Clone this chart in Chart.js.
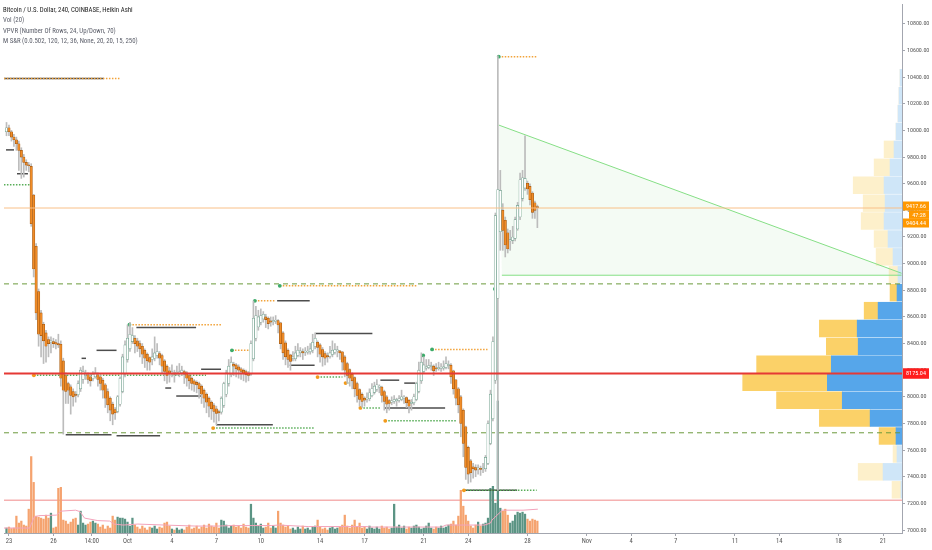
<!DOCTYPE html>
<html><head><meta charset="utf-8">
<script src="https://cdn.jsdelivr.net/npm/chart.js@4.4.0/dist/chart.umd.min.js"></script>
<style>
html,body{margin:0;padding:0;background:#fff;}
#wrap{position:relative;width:932px;height:550px;}
#legend{position:absolute;left:3px;top:5px;font-family:"Roboto Condensed","Liberation Sans",Arial,sans-serif;font-size:6.8px;line-height:10.4px;color:#5d606b;pointer-events:none;white-space:nowrap;}
#legend .t{color:#222;}
</style></head>
<body><div id="wrap"><canvas id="c" width="932" height="550"></canvas>
<div id="legend"><div class="t">Bitcoin / U.S. Dollar, 240, COINBASE, Heikin Ashi</div><div>Vol (20)</div><div>VPVR (Number Of Rows, 24, Up/Down, 70)</div><div>M S&amp;R (0.0.502, 120, 12, 36, None, 20, 20, 15, 250)</div></div>
</div>
<script>
// ---------- data ----------
const xTickDays = [0,3,5.583,8,11,14,17,21,24,28,31,35,39,42,45,49,52,56,59];
const xTickLabels = ['23','26','14:00','Oct','4','7','10','14','17','21','24','28','Nov','4','7','11','14','18','21'];
const priceTicks = [7000,7200,7400,7600,7800,8000,8200,8400,8600,8800,9000,9200,9400,9600,9800,10000,10200,10400,10600,10800];
const barStartDay = -1/6;       // first 4h bar (Sep 22, 20:00)
const barStepDay = 4/24;        // 240-minute bars
// Heikin Ashi candles [open, high, low, close]
const candles = [
[9990,10060,9960,10020],[10020,10040,9960,9990],[9990,10000,9920,9950],[9950,9970,9880,9930],[9930,9950,9850,9900],[9900,9920,9700,9850],
[9850,9870,9640,9800],[9800,9820,9650,9760],[9760,9780,9700,9740],[9740,9760,9690,9735],[9730,9750,9280,9300],[9515,9520,8900,8960],
[9130,9150,8580,8630],[8790,8810,8380,8470],[8630,8650,8300,8460],[8545,8560,8250,8420],[8480,8500,8260,8380],[8430,8450,8300,8400],
[8410,8450,8330,8420],[8415,8440,8370,8400],[8408,8430,8360,8395],[8400,8470,8370,8390],[8395,8420,8080,8140],[8270,8290,7720,8050],
[8160,8180,7950,8040],[8100,8110,7950,8050],[8075,8090,7870,8010],[8040,8060,7930,8000],[8020,8040,7960,8010],[8015,8120,8000,8100],
[8060,8220,8040,8200],[8130,8230,8100,8190],[8160,8200,8130,8170],[8165,8180,8100,8130],[8150,8170,8080,8120],[8135,8190,8120,8170],
[8150,8220,8140,8180],[8165,8180,8080,8130],[8150,8160,8050,8100],[8125,8140,7990,8050],[8090,8100,7920,7990],[8040,8060,7880,7940],
[7990,8000,7820,7900],[7945,7960,7790,7870],[7905,7920,7830,7880],[7890,8010,7880,8000],[7945,8150,7930,8140],[8040,8320,8030,8300],
[8170,8420,8150,8390],[8280,8540,8260,8440],[8360,8560,8340,8470],[8415,8520,8400,8460],[8440,8460,8330,8400],[8420,8440,8340,8380],
[8400,8420,8300,8360],[8380,8400,8250,8320],[8350,8360,8220,8290],[8320,8330,8200,8270],[8295,8300,8200,8260],[8280,8360,8240,8300],
[8290,8450,8270,8330],[8310,8400,8290,8340],[8325,8340,8240,8290],[8310,8320,8180,8230],[8270,8280,8120,8190],[8230,8240,8100,8160],
[8195,8220,8110,8175],[8180,8240,8150,8180],[8178,8200,8110,8170],[8175,8230,8160,8185],[8180,8250,8150,8180],[8180,8230,8160,8200],
[8190,8200,8100,8170],[8180,8190,8080,8140],[8160,8170,8060,8120],[8140,8150,8050,8100],[8120,8130,8040,8095],[8108,8120,8030,8090],
[8100,8110,7990,8060],[8080,8090,7950,8020],[8050,8060,7920,7990],[8020,8030,7880,7960],[7990,8000,7850,7930],[7960,7970,7830,7910],
[7935,7950,7810,7890],[7910,7930,7790,7875],[7890,7900,7820,7880],[7885,8000,7870,7990],[7935,8110,7920,8100],[8020,8200,8000,8180],
[8100,8280,8080,8230],[8165,8300,8150,8260],[8245,8260,8160,8230],[8240,8250,8150,8210],[8225,8240,8140,8200],[8210,8220,8130,8190],
[8200,8210,8120,8175],[8190,8200,8110,8165],[8178,8190,8120,8160],[8170,8420,8160,8400],[8285,8720,8270,8590],[8440,8680,8420,8610],
[8525,8650,8500,8600],[8560,8660,8540,8610],[8585,8640,8560,8620],[8600,8620,8520,8580],[8590,8600,8510,8550],[8570,8600,8530,8560],
[8565,8600,8540,8570],[8568,8610,8550,8575],[8572,8580,8480,8540],[8556,8560,8360,8400],[8480,8490,8280,8330],[8405,8420,8240,8300],
[8350,8360,8220,8280],[8315,8320,8200,8265],[8290,8340,8270,8300],[8285,8380,8270,8330],[8310,8400,8300,8350],[8330,8370,8300,8345],
[8340,8360,8280,8330],[8335,8370,8310,8335],[8335,8380,8320,8340],[8338,8400,8320,8360],[8350,8470,8330,8410],[8380,8480,8360,8440],
[8410,8420,8300,8370],[8390,8400,8260,8320],[8355,8370,8230,8300],[8325,8340,8240,8290],[8310,8330,8260,8300],[8305,8380,8290,8330],
[8318,8420,8300,8350],[8335,8400,8320,8355],[8345,8380,8300,8345],[8345,8350,8280,8330],[8338,8340,8200,8260],[8300,8310,8150,8200],
[8250,8260,8100,8160],[8205,8210,8080,8140],[8170,8180,8060,8120],[8145,8150,8000,8060],[8100,8110,7960,8010],[8055,8060,7930,7980],
[8018,8030,7920,7965],[7990,8000,7930,7975],[7982,8030,7960,7990],[7986,8060,7970,8030],[8008,8100,8000,8060],[8034,8110,8020,8080],
[8057,8130,8040,8090],[8073,8090,8030,8075],[8074,8080,7960,8010],[8040,8050,7900,7965],[8000,8010,7880,7945],[7972,7980,7900,7950],
[7960,8000,7940,7970],[7965,8010,7950,7980],[7972,7990,7930,7975],[7974,8010,7960,7985],[7980,8050,7970,8000],[7990,8010,7950,7990],
[7995,8000,7920,7955],[7975,7980,7880,7930],[7950,7980,7900,7960],[7955,8020,7940,8000],[7980,8110,7970,8100],[8040,8260,8030,8200],
[8120,8330,8100,8260],[8190,8300,8180,8240],[8215,8280,8200,8225],[8220,8280,8210,8235],[8228,8260,8200,8230],[8230,8240,8160,8195],
[8212,8250,8190,8210],[8211,8260,8200,8220],[8215,8250,8190,8215],[8215,8270,8200,8225],[8220,8300,8210,8250],[8235,8270,8210,8240],
[8238,8250,8100,8150],[8195,8200,8020,8060],[8128,8130,7940,7990],[8060,8070,7880,7940],[8000,8010,7700,7800],[7900,7910,7550,7650],
[7775,7780,7380,7470],[7620,7630,7350,7420],[7520,7530,7360,7430],[7475,7500,7390,7460],[7468,7490,7400,7450],[7459,7490,7420,7460],
[7460,7480,7410,7455],[7458,7500,7430,7465],[7460,7560,7440,7545],[7500,7820,7490,7800],[7650,8050,7640,8020],[7835,8450,7820,8415],
[8125,9380,8100,9360],[8740,10560,7300,9556],[9240,9700,9100,9550],[9400,9450,9100,9250],[9325,9350,9050,9140],[9232,9260,9080,9110],
[9170,9250,9100,9180],[9175,9280,9150,9200],[9190,9350,9170,9330],[9260,9460,9250,9437],[9350,9680,9330,9630],[9490,9700,9470,9645],
[9567,9960,9550,9640],[9603,9620,9520,9560],[9580,9600,9440,9480],[9530,9540,9340,9385],[9457,9470,9340,9400],[9428,9440,9270,9420]
];
// volume per bar (thousand BTC)
const volume = [
1.0,1.2,0.9,1.0,3.4,2.0, 2.4,1.6,1.4,4.8,15.4,10.2, 3.4,3.2,3.0,2.8,3.6,3.0, 4.0,1.0,1.2,9.0,9.2,2.6,
2.4,1.8,2.2,2.8,3.0,1.6, 4.4,2.0,1.6,1.8,2.2,2.4, 2.0,1.8,1.2,1.6,0.8,1.4, 1.0,3.4,2.6,3.2,3.0,3.0,
2.8,2.2,1.4,3.0,1.6,1.2, 0.8,1.4,1.0,0.6,1.2,1.0, 1.4,0.8,1.2,1.0,2.0,2.2, 1.4,0.8,0.6,1.0,0.6,0.8,
0.6,1.2,1.6,0.8,1.0,1.4, 0.8,1.2,1.6,1.0,1.8,1.4, 1.2,2.0,1.0,2.6,2.4,1.6, 1.0,1.4,1.6,1.2,1.4,1.0,
1.8,1.2,1.0,5.8,3.0,2.0, 1.4,1.8,1.0,1.2,2.0,1.0, 1.4,1.0,4.4,2.0,1.6,1.2, 1.4,0.8,1.0,0.6,1.2,0.8,
1.4,0.8,1.0,0.6,1.2,1.4, 2.6,1.2,0.8,1.0,0.6,1.0, 1.2,0.8,1.0,1.2,1.6,3.6, 1.4,1.0,1.6,2.6,1.2,2.0,
1.0,1.2,0.8,1.4,1.0,0.8, 1.2,0.8,1.4,1.0,1.2,0.8, 1.0,5.8,1.2,1.6,1.0,1.4, 0.8,1.2,1.0,1.4,1.6,1.2,
0.8,1.0,1.4,2.0,1.0,0.8, 1.2,1.0,1.4,1.0,1.2,1.6, 1.8,2.4,1.6,3.4,8.6,5.4, 3.6,2.4,1.4,1.0,1.6,2.2,
1.4,1.8,2.0,3.0,9.0,9.4, 6.0,26.6,5.0,4.4,4.8,3.6, 2.0,2.4,3.6,4.2,4.0,4.2, 3.8,2.8,2.4,2.8,2.6,2.4
];
// Vol(20) moving average [day, thousand BTC]
const volMA = [[-0.34,1.0],[1.4,1.0],[1.7,3.2],[2.0,3.5],[3.2,3.6],[3.5,4.4],[4.5,4.6],[4.8,4.3],[5.1,3.0],[6.0,2.5],[6.8,2.4],[7.1,1.8],[7.7,1.6],[8.7,1.8],[10.5,1.6],[12.6,1.4],[14.1,1.4],[15.1,1.5],[17.7,1.5],[18.2,1.6],[20.2,1.3],[24.1,1.3],[24.4,1.2],[29.2,1.2],[29.5,1.6],[32.1,1.6],[32.5,2.0],[32.6,2.6],[33.3,4.6],[34.7,4.6],[35.7,4.8]];
// VPVR: 24 rows (mid price), up / down volume
const vpRows = [7365,7500,7634,7769,7903,8038,8172,8307,8441,8576,8710,8845,8979,9114,9248,9383,9517,9652,9786,9921,10055,10190,10324,10459];
const vpUp   = [0.5,9.5,2.5,3,16,30,37.5,35.5,22,22.5,12,2.5,2,4.5,7,9,8.5,9,6,4,3,2,1.5,1];
const vpDown = [4.5,12.5,2,8.5,25.5,33,42.5,37.5,16,19,7,3.5,4.5,8.5,7,11.5,11,15.5,8,5,0,0,0,0];
const valueAreaRows = [3, 11];
// price levels
const lastPrice = 9417.66, lastClose2 = 9404.44, barCountdown = '47:28', pocPrice = 8175.04;
const dashedLevels = [8848, 7730];
const redLevel = 7224;
const triUpper = [[33.07,10040],[60.25,8928]];
const triLower = [[33.27,8913],[60.25,8913]];
// M S&R: [price, fromDay, toDay, startDot]
const resLines = [[10390,-0.34,7.5,0],[8542,8.13,14.31,1],[8349,15.05,16.33,1],[8721,16.6,18.0,1],[8833,18.28,27.55,1],[8356,28.56,32.3,1],[10554,33.06,35.62,1]];
const supLines = [[9593,-0.34,1.48,0],[8162,1.68,13.3,1],[7765,13.78,20.63,1],[8148,20.83,22.51,1],[8103,22.72,23.1,1],[7917,23.72,25.07,1],[7820,25.4,30.24,1],[7298,30.71,35.62,1]];
const pivotLines = [[10390,-0.34,6.4],[9854,-0.2,0.34],[9675,0.54,1.28],[7715,3.83,6.92],[8289,4.9,5.2],[8349,5.91,7.26],[7708,7.26,10.2],[8520,8.6,12.63],[8066,10.55,10.95],[8006,11.29,12.97],[8207,12.97,14.31],[7790,13.98,17.81],[8721,18.1,20.3],[8237,18.95,20.63],[8475,20.7,24.53],[8125,25.07,26.34],[8103,26.68,27.42],[7917,25.34,29.44],[7298,30.71,34.3]];
const signalDots = [[32.8,8810],[27.96,8311]];

// ---------- chart ----------
const F = '"Roboto Condensed","Liberation Sans",Arial,sans-serif';
Chart.defaults.font.family = F;
const xMin = -0.336, xMax = 60.28, yMin = 6977.6, yMax = 10949.3;
const times = candles.map((c, i) => barStartDay + i * barStepDay);
const isUp = i => candles[i][3] >= candles[i][0];

const C = {
  upFill:'#ffffff', upBorder:'#6f9f8c', dnFill:'#f08c28', dnBorder:'#a0560f', wick:'#bcbcbc',
  volUp:'#5b9484', volDn:'#f5a36f', ma:'#f3a3bb',
  vpUp:'#56a6ea', vpDn:'#fbd168', vpUpF:'#cfe6f8', vpDnF:'#fdf0cb',
  res:'#f2a33a', sup:'#58ad58', piv:'#4d4d4d', dotRes:'#3cab6a', dotSup:'#f29a1a'
};

function hline(price, a, b, extra) {
  return Object.assign({type:'line', data:[{x:a,y:price},{x:b,y:price}], pointRadius:0, borderWidth:1, fill:false, tension:0}, extra);
}

const datasets = [];
// candles
datasets.push({type:'bar', label:'body', order:10, grouped:false, barThickness:2.4, minBarLength:1,
  data: candles.map((c,i)=>({x:times[i], y:[c[0], c[3]]})),
  backgroundColor: ctx => isUp(ctx.dataIndex) ? C.upFill : C.dnFill,
  borderColor: ctx => isUp(ctx.dataIndex) ? C.upBorder : C.dnBorder,
  borderWidth:0.6, borderSkipped:false});
datasets.push({type:'bar', label:'wick', order:20, grouped:false, barThickness:1,
  data: candles.map((c,i)=>({x:times[i], y:[c[2], c[1]]})), backgroundColor:C.wick, borderWidth:0});
// volume
datasets.push({type:'bar', label:'vol', order:70, grouped:false, barThickness:1.6, yAxisID:'yVol',
  data: volume.map((v,i)=>({x:times[i], y:v})),
  backgroundColor: ctx => isUp(ctx.dataIndex) ? C.volUp : C.volDn, borderWidth:0});
datasets.push({type:'line', label:'volMA', order:65, yAxisID:'yVol', data: volMA.map(p=>({x:p[0], y:p[1]})),
  borderColor:C.ma, borderWidth:1, pointRadius:0, fill:false, tension:0});
// VPVR
const inVA = k => k >= valueAreaRows[0] && k <= valueAreaRows[1];
datasets.push({type:'bar', label:'vpUp', order:95, indexAxis:'y', xAxisID:'xP', yAxisID:'yP', stack:'vp', barThickness:16.8,
  data: vpRows.map((p,k)=>({x:vpUp[k], y:p})), backgroundColor: ctx => inVA(ctx.dataIndex) ? C.vpUp : C.vpUpF, borderWidth:0});
datasets.push({type:'bar', label:'vpDown', order:95, indexAxis:'y', xAxisID:'xP', yAxisID:'yP', stack:'vp', barThickness:16.8,
  data: vpRows.map((p,k)=>({x:vpDown[k], y:p})), backgroundColor: ctx => inVA(ctx.dataIndex) ? C.vpDn : C.vpDnF, borderWidth:0});
// triangle
datasets.push({type:'line', label:'triFill', order:92, data:[...triUpper, ...triLower.slice().reverse()].map(p=>({x:p[0],y:p[1]})),
  fill:'shape', backgroundColor:'rgba(120,205,120,0.08)', borderWidth:0, pointRadius:0, tension:0});
datasets.push({type:'line', label:'triU', order:60, data: triUpper.map(p=>({x:p[0],y:p[1]})), borderColor:'#86df86', borderWidth:1, pointRadius:0, fill:false});
datasets.push({type:'line', label:'triL', order:60, data: triLower.map(p=>({x:p[0],y:p[1]})), borderColor:'#86df86', borderWidth:1, pointRadius:0, fill:false});
// horizontal levels
dashedLevels.forEach(p => datasets.push(hline(p, xMin, xMax, {order:80, borderColor:'#6c9a3c', borderDash:[5,4]})));
datasets.push(hline(redLevel, xMin, xMax, {order:80, borderColor:'#f08a8a'}));
// S&R
pivotLines.forEach(l => datasets.push(hline(l[0], l[1], l[2], {order:50, borderColor:C.piv, borderWidth:1.5})));
resLines.forEach(l => datasets.push(hline(l[0], l[1], l[2], {order:45, borderColor:C.res, borderWidth:1.5, borderDash:[1.5,1.5],
  pointRadius:[l[3]?1.9:0,0], pointBackgroundColor:C.dotRes, pointBorderWidth:0})));
supLines.forEach(l => datasets.push(hline(l[0], l[1], l[2], {order:45, borderColor:C.sup, borderWidth:1.5, borderDash:[1.5,1.5],
  pointRadius:[l[3]?1.9:0,0], pointBackgroundColor:C.dotSup, pointBorderWidth:0})));
datasets.push({type:'line', label:'sig', order:44, showLine:false, data: signalDots.map(p=>({x:p[0],y:p[1]})),
  pointRadius:1.9, pointBackgroundColor:C.dotRes, pointBorderWidth:0});
// POC and last price
datasets.push(hline(pocPrice, xMin, xMax, {order:5, borderColor:'#e53935', borderWidth:2}));
datasets.push(hline(lastPrice, xMin, xMax, {order:5, borderColor:'#f9c088', borderWidth:1}));

const priceLabels = {
  id:'priceLabels',
  afterDraw(chart) {
    const {ctx, chartArea} = chart; const ys = chart.scales.y;
    const L = chartArea.right, R = chart.width - 3;
    function box(text, cy, x0, bg, h) {
      ctx.save(); ctx.fillStyle = bg; ctx.fillRect(x0, cy - h/2, R - x0, h);
      ctx.fillStyle = '#fff'; ctx.font = '6.2px ' + F; ctx.textBaseline = 'middle'; ctx.textAlign = 'center';
      ctx.fillText(text, (x0 + R)/2, cy + 0.4); ctx.restore();
    }
    const yl = ys.getPixelForValue(lastPrice);
    box(lastPrice.toFixed(2), yl - 2, L + 1, '#ff9800', 9);
    box(barCountdown, yl + 6.6, L + 7, '#ff9800', 8.4);
    box(lastClose2.toFixed(2), yl + 15, L + 1, '#ff9800', 9);
    box(pocPrice.toFixed(2), ys.getPixelForValue(pocPrice), L + 1, '#ff1d1d', 10.5);
  }
};

new Chart(document.getElementById('c'), {
  type:'bar',
  data:{datasets},
  plugins:[priceLabels],
  options:{
    responsive:false, animation:false, events:[],
    layout:{padding:0},
    plugins:{legend:{display:false}, tooltip:{enabled:false}},
    scales:{
      x:{type:'linear', min:xMin, max:xMax, offset:false, position:'bottom',
         grid:{drawOnChartArea:false, drawTicks:true, tickLength:3, color:'#a3a6af', offset:false},
         border:{display:true, color:'#a3a6af'},
         ticks:{autoSkip:false, maxRotation:0, padding:1, color:'#555', font:{size:6.6, family:F},
                callback:(v,i)=>xTickLabels[i]},
         afterBuildTicks:s=>{ s.ticks = xTickDays.map(v=>({value:v})); },
         afterFit:s=>{ s.height = 17; s.paddingLeft = 0; s.paddingRight = 0; }},
      y:{type:'linear', position:'right', min:yMin, max:yMax,
         grid:{drawOnChartArea:false, drawTicks:true, tickLength:3, color:'#a3a6af'},
         border:{display:true, color:'#a3a6af'},
         ticks:{autoSkip:false, padding:2, color:'#555', font:{size:6, family:F}, callback:v=>Number(v).toFixed(2)},
         afterBuildTicks:s=>{ s.ticks = priceTicks.map(v=>({value:v})); },
         afterFit:s=>{ s.width = 30; s.paddingTop = 0; s.paddingBottom = 0; }},
      yVol:{type:'linear', display:false, min:0, max:106.6},
      yP:{type:'linear', display:false, min:yMin, max:yMax, offset:false},
      xP:{type:'linear', display:false, min:0, max:451, reverse:true, stacked:true, offset:false}
    }
  }
});
</script></body></html>
